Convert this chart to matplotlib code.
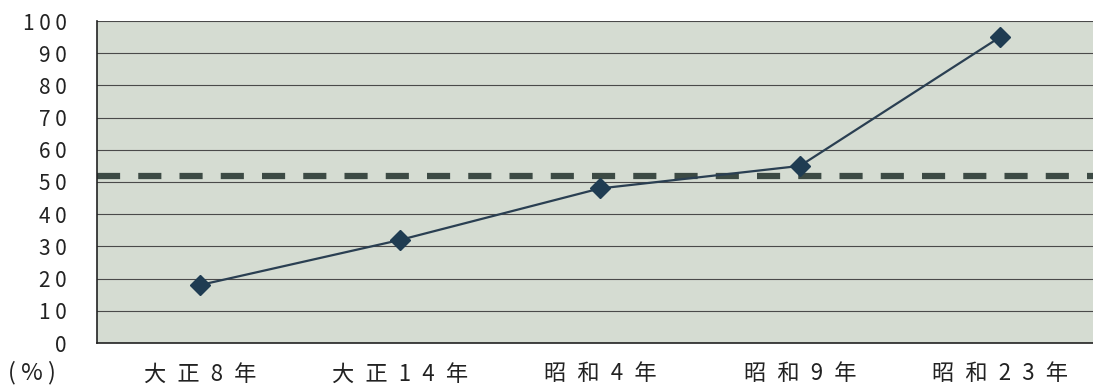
import matplotlib.pyplot as plt

plt.rcParams['font.family'] = ['Noto Sans CJK JP', 'DejaVu Sans']

# 年次ごとの割合 (%)
nendo = ["大正8年", "大正14年", "昭和4年", "昭和9年", "昭和23年"]
wariai = [18, 32, 48, 55, 95]
kijun = 52  # 破線の基準値
y_ticks = [0, 10, 20, 30, 40, 50, 60, 70, 80, 90, 100]


def hiraku(s, sep="\u2002"):
    # 文字の間に空白を入れて字間を広げる
    return sep.join(s)


fig = plt.figure(figsize=(10.93, 3.85), dpi=100)
ax = fig.add_axes([97 / 1093, 42 / 385, 1003 / 1093, 322 / 385])
ax.set_facecolor('#d5dcd2')

x = list(range(len(nendo)))
ax.axhline(kijun, color='#3c4a44', linewidth=4.5, dashes=(3.7, 2.9), zorder=2)
ax.plot(x, wariai, color='#2a3f52', linewidth=1.6, marker='D', markersize=10,
        markerfacecolor='#1f3c52', markeredgecolor='#1f3c52', zorder=3)

ax.set_xlim(-0.515, 4.5)
ax.set_ylim(0, 100)
ax.set_xticks(x)
ax.set_xticklabels([hiraku(n) for n in nendo], fontsize=16, color='#222222')
ax.set_yticks(y_ticks)
ax.set_yticklabels([hiraku(str(v), " ") for v in y_ticks], fontsize=15,
                   color='#222222')
ax.tick_params(length=0)
ax.tick_params(axis='x', pad=14)
ax.tick_params(axis='y', pad=22)

ax.grid(axis='y', color='#4a4a4a', linewidth=0.8)
ax.set_axisbelow(True)
for side in ['top', 'right']:
    ax.spines[side].set_visible(False)
ax.spines['left'].set_color('#222222')
ax.spines['bottom'].set_color('#222222')
ax.spines['left'].set_linewidth(1.2)
ax.spines['bottom'].set_linewidth(1.2)

fig.text(8 / 1093, 6 / 385, "( % )", fontsize=17, color='#222222',
         va='baseline')

fig.savefig("out.png", dpi=100, facecolor='white')
